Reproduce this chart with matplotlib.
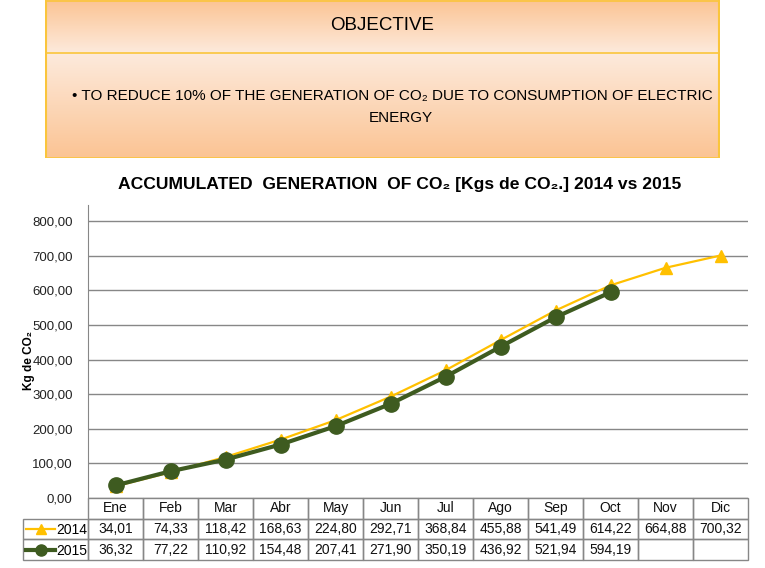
import numpy as np
import matplotlib
matplotlib.use("Agg")
import matplotlib.pyplot as plt
from matplotlib.lines import Line2D

plt.rcParams["font.family"] = ["Liberation Sans", "DejaVu Sans"]

months = ["Ene", "Feb", "Mar", "Abr", "May", "Jun", "Jul", "Ago", "Sep", "Oct", "Nov", "Dic"]
co2_2014 = [34.01, 74.33, 118.42, 168.63, 224.80, 292.71, 368.84, 455.88, 541.49, 614.22, 664.88, 700.32]
co2_2015 = [36.32, 77.22, 110.92, 154.48, 207.41, 271.90, 350.19, 436.92, 521.94, 594.19]
yticks = [0, 100, 200, 300, 400, 500, 600, 700, 800]

YELLOW = "#FFC000"
GREEN = "#3E5B20"
GRID = "#878787"
BORDER = "#FAC53C"


def fmt(v):
    return f"{v:.2f}".replace(".", ",")


fig = plt.figure(figsize=(7.65, 5.68), dpi=100)
W, H = 765.0, 568.0


def fig_rect(x0, y0, x1, y1):
    # pixel box (top-left origin) -> figure fraction rect
    return [x0 / W, 1 - y1 / H, (x1 - x0) / W, (y1 - y0) / H]


# header box with orange gradients
hdr = fig.add_axes(fig_rect(45, 0, 720, 158))
hdr.axis("off")
c_dark = np.array([251, 196, 148]) / 255.0
c_light = np.array([253, 234, 220]) / 255.0
t = np.linspace(0, 1, 64)[:, None]
top_grad = (c_dark * (1 - t) + c_light * t)[:, None, :].repeat(2, axis=1)
bot_grad = (c_light * (1 - t) + c_dark * t)[:, None, :].repeat(2, axis=1)
hdr.imshow(top_grad, extent=(0, 1, 53, 0), aspect="auto")
hdr.imshow(bot_grad, extent=(0, 1, 158, 53), aspect="auto")
hdr.set_xlim(0, 1)
hdr.set_ylim(158, 0)
for yy in (0.5, 53, 157.5):
    hdr.axhline(yy, color=BORDER, lw=1.2)
hdr.axvline(0.001, color=BORDER, lw=1.5)
hdr.axvline(0.999, color=BORDER, lw=1.5)
hdr.text(0.5, 26, "OBJECTIVE", ha="center", va="center", fontsize=13.5)
hdr.text(0.514, 96, "• TO REDUCE 10% OF THE GENERATION OF CO₂ DUE TO CONSUMPTION OF ELECTRIC",
         ha="center", va="center", fontsize=11)
hdr.text(0.527, 118, "ENERGY", ha="center", va="center", fontsize=11)

fig.text(400 / W, 1 - 184 / H, "ACCUMULATED  GENERATION  OF CO₂ [Kgs de CO₂.] 2014 vs 2015",
         ha="center", va="center", fontsize=12.6, fontweight="bold")

# main chart
ax = fig.add_axes(fig_rect(88, 205, 748, 498))
x = np.arange(len(months))
ax.plot(x, co2_2014, color=YELLOW, lw=1.6, marker="^", ms=8, zorder=3)
ax.plot(np.arange(len(co2_2015)), co2_2015, color=GREEN, lw=3, marker="o", ms=11, zorder=4)
ax.set_xlim(-0.5, len(months) - 0.5)
ax.set_ylim(0, 800 + 16 / 34.6 * 100)
ax.set_yticks(yticks)
ax.set_yticklabels([fmt(v) for v in yticks], fontsize=9.5, color="#222222")
ax.set_xticks([])
ax.grid(axis="y", color=GRID, lw=1)
ax.set_axisbelow(True)
for s in ("top", "right", "bottom"):
    ax.spines[s].set_visible(False)
ax.spines["left"].set_color(GRID)
ax.tick_params(axis="y", length=0, pad=11)
fig.text(29 / W, 1 - 360 / H, "Kg de CO₂", rotation=90, ha="center", va="center",
         fontsize=8.5, fontweight="bold")

# data table below the axes
rows = [[""] + months,
        [""] + [fmt(v) for v in co2_2014],
        [""] + [fmt(v) for v in co2_2015] + [""] * (len(months) - len(co2_2015))]
ax_w = 660.0
ax_h = 293.0
tbl = ax.table(cellText=rows, cellLoc="center",
               bbox=[(23 - 88) / ax_w, -62 / ax_h, 725 / ax_w, 62 / ax_h],
               colWidths=[65] + [55] * len(months))
tbl.auto_set_font_size(False)
tbl.set_fontsize(10)
for (r, c), cell in tbl.get_celld().items():
    cell.set_edgecolor(GRID)
    cell.set_linewidth(1)
    cell.set_facecolor("none")
    cell.get_text().set_color("#111111")
tbl[0, 0].visible_edges = ""

# legend keys inside the row label cells
handles = [Line2D([], [], color=YELLOW, lw=1.6, marker="^", ms=7),
           Line2D([], [], color=GREEN, lw=3, marker="o", ms=8)]
fig.legend(handles, ["2014", "2015"], loc="upper left",
           bbox_to_anchor=(26 / W, 1 - 523 / H), frameon=False, fontsize=10,
           handlelength=2.1, handletextpad=0.1, labelspacing=0.5,
           borderpad=0, borderaxespad=0)

fig.savefig("out.png", dpi=100)
